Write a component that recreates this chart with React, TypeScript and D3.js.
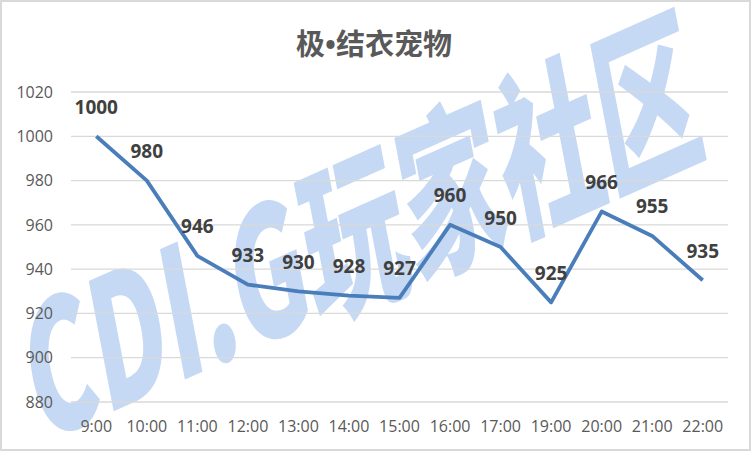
import React from "react";
import * as d3 from "d3";

const categories = ["9:00","10:00","11:00","12:00","13:00","14:00","15:00","16:00","17:00","19:00","20:00","21:00","22:00"];
const values = [1000, 980, 946, 933, 930, 928, 927, 960, 950, 925, 966, 955, 935];
const yTicks = [880, 900, 920, 940, 960, 980, 1000, 1020];
const titleParts = ["极", "•", "结衣宠物"];
const watermark = "CDI.G玩家社区";

const W = 752, H = 452;
const left = 71, right = 728, top = 92, bottom = 402;

export default function App() {
  const x = d3.scalePoint<string>().domain(categories).range([left, right]).padding(0.5);
  const y = d3.scaleLinear().domain([880, 1020]).range([bottom, top]);
  const line = d3.line<number>().x((_, i) => x(categories[i])!).y((d) => y(d));
  const font = "'Open Sans', 'Noto Sans', sans-serif";
  const cjk = "'Noto Sans CJK SC', sans-serif";
  return (
    <svg width={W} height={H} style={{ position: "absolute", left: 0, top: 0 }}>
      <rect x={0} y={0} width={W} height={H} fill="#ffffff" />
      <text
        transform="translate(40,444) skewY(-24) skewX(10) scale(1,1.15)"
        x={0}
        y={0}
        textLength={668}
        lengthAdjust="spacingAndGlyphs"
        fontFamily={cjk}
        fontWeight={900}
        fontSize={165}
        fill="#c6d9f4"
      >
        {watermark}
      </text>
      {yTicks.map((t) => (
        <g key={t}>
          <line x1={left} x2={right} y1={y(t)} y2={y(t)} stroke="#d9d9d9" strokeWidth={1.3} />
          <text x={53} y={y(t)} dy="0.36em" textAnchor="end" fontFamily={font} fontSize={16} fill="#595959">
            {t}
          </text>
        </g>
      ))}
      {categories.map((c) => (
        <text key={c} x={x(c)} y={432} textAnchor="middle" fontFamily={font} fontSize={16} fill="#595959">
          {c}
        </text>
      ))}
      <path d={line(values)!} fill="none" stroke="#4a7ebb" strokeWidth={3.8} strokeLinejoin="round" />
      {values.map((v, i) => (
        <text key={i} x={x(categories[i])} y={y(v) - 22.5} textAnchor="middle" fontFamily={font} fontWeight={700} fontSize={19} fill="#404040">
          {v}
        </text>
      ))}
      <text x={374} y={55} textAnchor="middle" fontFamily={cjk} fontWeight={700} fontSize={29} fill="#595959">
        <tspan>{titleParts[0]}</tspan>
        <tspan fontFamily={font}>{titleParts[1]}</tspan>
        <tspan>{titleParts[2]}</tspan>
      </text>
      <rect x={1} y={1} width={W - 3} height={H - 3} fill="none" stroke="#d9d9d9" strokeWidth={2} />
    </svg>
  );
}
